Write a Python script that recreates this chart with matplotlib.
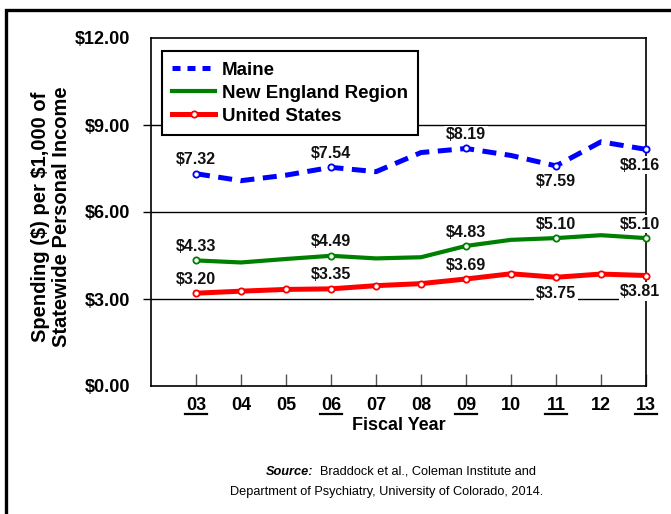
import numpy as np
import matplotlib.pyplot as plt
from matplotlib.patches import Rectangle
from matplotlib.lines import Line2D
import matplotlib.transforms as mtransforms

plt.rcParams['font.family'] = ['Liberation Sans', 'DejaVu Sans']

# data
years = [3, 4, 5, 6, 7, 8, 9, 10, 11, 12, 13]
year_labels = ['03', '04', '05', '06', '07', '08', '09', '10', '11', '12', '13']
underlined = ['03', '06', '09', '11', '13']
maine = [7.32, 7.08, 7.27, 7.54, 7.39, 8.05, 8.19, 7.95, 7.59, 8.42, 8.16]
new_england = [4.33, 4.26, 4.38, 4.49, 4.40, 4.44, 4.83, 5.04, 5.10, 5.20, 5.10]
united_states = [3.20, 3.27, 3.33, 3.35, 3.46, 3.53, 3.69, 3.87, 3.75, 3.86, 3.81]
y_ticks = [0, 3, 6, 9, 12]
y_tick_labels = ['\\$0.00', '\\$3.00', '\\$6.00', '\\$9.00', '\\$12.00']

# which points get a label, and where (1 = above, -1 = below)
maine_lab = {3: 1, 6: 1, 9: 1, 11: -1, 13: -1}
ne_lab = {3: 1, 6: 1, 9: 1, 11: 1, 13: 1}
us_lab = {3: 1, 6: 1, 9: 1, 11: -1, 13: -1}

fig = plt.figure(figsize=(6.71, 5.14), dpi=100)
ax = fig.add_axes([151 / 671, 128 / 514, 495 / 671, 348 / 514])

# outer frame
fig.patches.append(Rectangle((0.0095, -0.1), 1.2, 1.0 + 0.1 - 0.0185,
                             transform=fig.transFigure, fill=False,
                             edgecolor='black', linewidth=2.4))

mark_idx = [years.index(y) for y in maine_lab]

ax.plot(years, maine, color='#0000ff', lw=3.6, ls=(0, (2.8, 1.7)),
        dash_capstyle='butt', marker='o', markevery=mark_idx, ms=4.5,
        mfc='white', mec='#0000ff', mew=1.3, zorder=4, clip_on=False)
ax.plot(years, new_england, color='#008000', lw=3.0, marker='o',
        markevery=mark_idx, ms=4.5, mfc='white', mec='#008000', mew=1.3,
        zorder=4, clip_on=False)
ax.plot(years, united_states, color='#ff0000', lw=3.6, marker='o', ms=4.5,
        mfc='white', mec='#ff0000', mew=1.3, zorder=4, clip_on=False)


def label_points(vals, where):
    for yr, pos in where.items():
        v = vals[years.index(yr)]
        dx = -4 if yr == 13 else 0
        dy = 10 if pos > 0 else -11.5
        ax.annotate(f'\\${v:.2f}', (yr, v), xytext=(dx, dy),
                    textcoords='offset points', ha='center', va='center',
                    fontsize=11.5, fontweight='bold', color='#111111',
                    bbox=dict(boxstyle='square,pad=0.1', fc='white', ec='none'),
                    zorder=5, annotation_clip=False)


label_points(maine, maine_lab)
label_points(new_england, ne_lab)
label_points(united_states, us_lab)

ax.set_xlim(2, 13)
ax.set_ylim(0, 12)

for g in [3, 6, 9]:
    ax.axhline(g, color='black', lw=1.0, zorder=1)

ax.set_yticks(y_ticks)
ax.set_yticklabels(y_tick_labels, fontsize=13, fontweight='bold')
ax.tick_params(axis='y', direction='out', length=6, width=1.0, pad=9)
for t in ax.yaxis.get_major_ticks():
    if t.get_loc() in (0, 12):
        t.tick1line.set_visible(False)

ax.set_xticks(years)
ax.set_xticklabels(year_labels, fontsize=13, fontweight='bold')
ax.tick_params(axis='x', direction='in', length=9, width=1.0, color='#555555', pad=8)

# underline some year labels
trans = mtransforms.blended_transform_factory(ax.transData, ax.transAxes)
for yr, lab in zip(years, year_labels):
    if lab in underlined:
        ax.plot([yr - 0.24, yr + 0.24], [-0.08, -0.08], color='black',
                lw=1.6, transform=trans, clip_on=False)

for s in ax.spines.values():
    s.set_linewidth(1.2)

ax.set_xlabel('Fiscal Year', fontsize=13, fontweight='bold', labelpad=2)
fig.text(51 / 671, 1 - 217 / 514,
         'Spending (\\$) per \\$1,000 of\nStatewide Personal Income',
         rotation=90, ha='center', va='center', fontsize=14.5,
         fontweight='bold', linespacing=1.15)

handles = [
    Line2D([], [], color='#0000ff', lw=3.6, ls=(0, (1.6, 1.4)), dash_capstyle='butt'),
    Line2D([], [], color='#008000', lw=3.0),
    Line2D([], [], color='#ff0000', lw=3.6, marker='o', ms=4.5, mfc='white',
           mec='#ff0000', mew=1.3),
]
leg = ax.legend(handles, ['Maine', 'New England Region', 'United States'],
                loc='upper left', bbox_to_anchor=(0.022, 0.962),
                prop={'weight': 'bold', 'size': 13.5}, frameon=True, fancybox=False,
                handlelength=2.3, handletextpad=0.35, labelspacing=0.32,
                borderpad=0.55, borderaxespad=0, framealpha=1)
leg.get_frame().set_edgecolor('black')
leg.get_frame().set_linewidth(1.5)

fig.text(313 / 671, 1 - 472 / 514, 'Source:', ha='right', va='center',
         fontsize=9.2, fontweight='bold', fontstyle='italic')
fig.text(320 / 671, 1 - 472 / 514, 'Braddock et al., Coleman Institute and',
         ha='left', va='center', fontsize=9.2)
fig.text(387 / 671, 1 - 492 / 514,
         'Department of Psychiatry, University of Colorado, 2014.',
         ha='center', va='center', fontsize=9.2)

fig.savefig('out.png', dpi=100)
